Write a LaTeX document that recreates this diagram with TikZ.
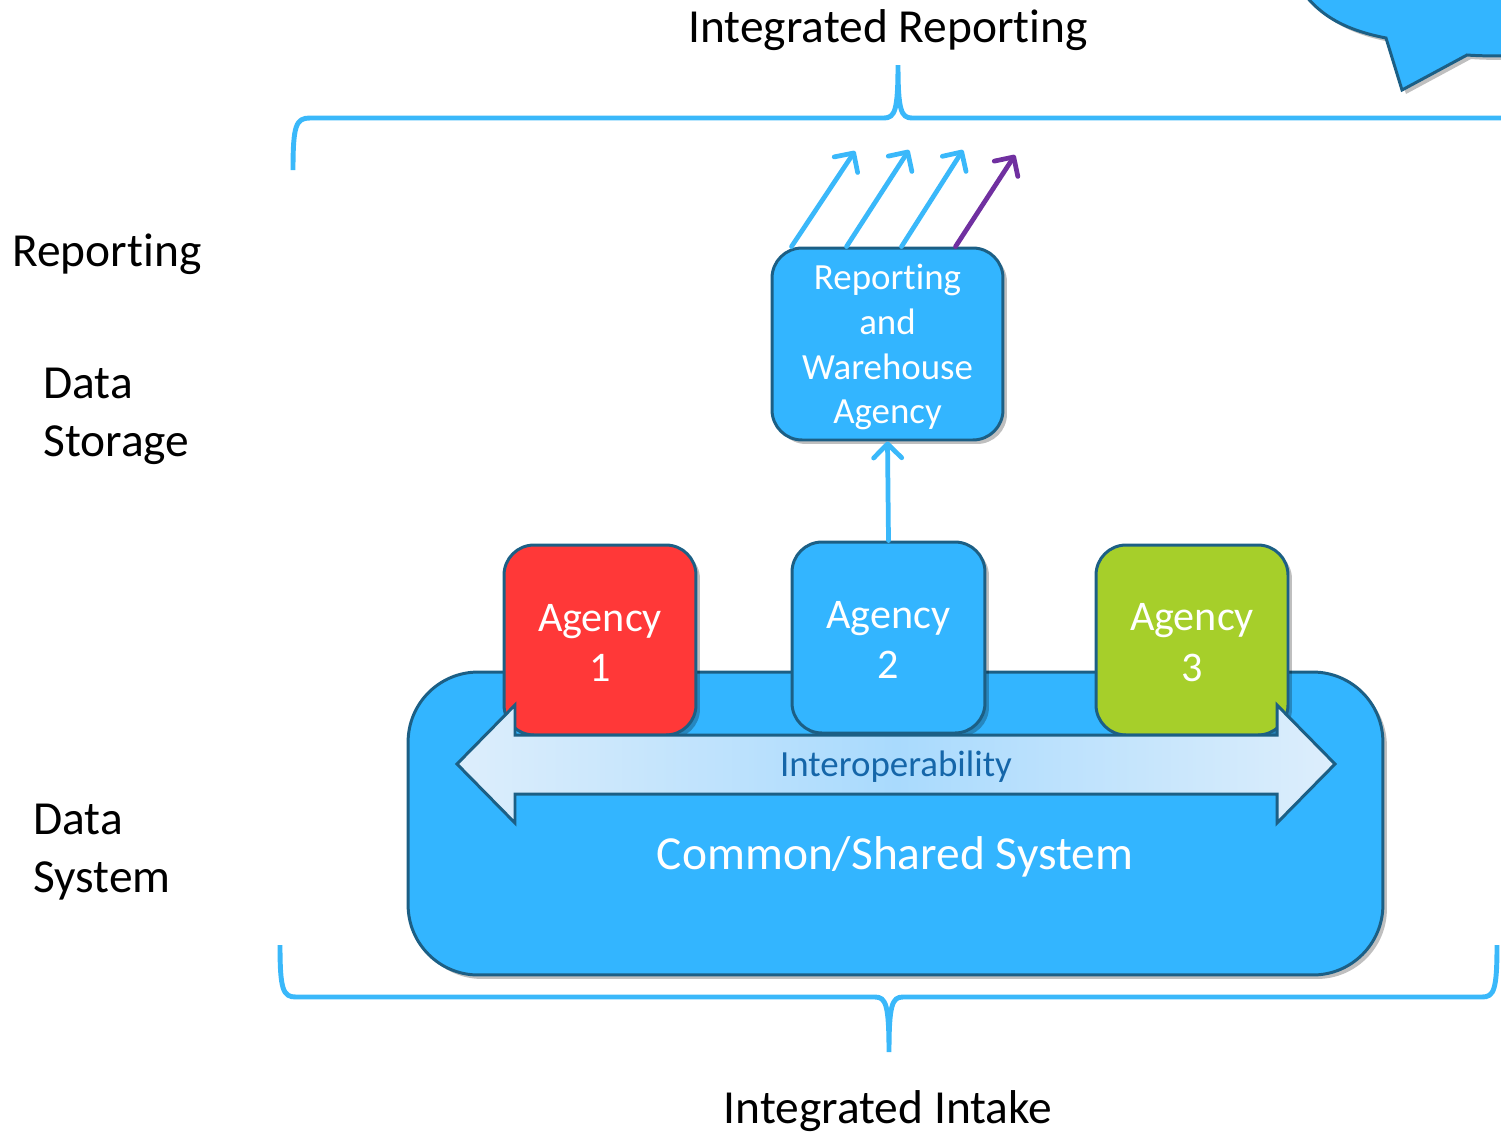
\documentclass[tikz,border=0pt]{standalone}
\usepackage{fontspec}
\setmainfont{Carlito}[Ligatures=NoCommon]
\usetikzlibrary{arrows.meta,shadows,calc}
\definecolor{cblue}{HTML}{33B5FF}
\definecolor{cedge}{HTML}{1C5F85}
\definecolor{cred}{HTML}{FF3838}
\definecolor{cgreen}{HTML}{A6CF2A}
\definecolor{cpurple}{HTML}{7030A0}
\definecolor{cbrace}{HTML}{3AB8FA}
\definecolor{cinter}{HTML}{1566A9}
\definecolor{cshaftL}{HTML}{DDEEFC}
\definecolor{cshaftM}{HTML}{A9DAFD}
\newcommand{\lowr}[2]{\raisebox{-#1}[\height][\depth]{#2}}
\begin{document}
\begin{tikzpicture}[x=0.02cm,y=-0.02cm,
  shd/.style={drop shadow={shadow xshift=0.08cm,shadow yshift=-0.08cm,opacity=0.25,fill=black}},
  box/.style={draw=cedge, line width=1.7pt, rounded corners=0.6cm, inner sep=0pt, align=center, text=white, font=\fontsize{24}{28.5}\selectfont, shd},
  brace/.style={draw=cbrace, line width=2.8pt},
  lbl/.style={font=\fontsize{27}{33}\selectfont, inner sep=0pt, align=left},
  uparrow/.style={line width=2.7pt, line cap=round, -{Straight Barb[length=8pt,width=16pt,round]}}
]
\useasboundingbox (0,0) rectangle (1501,1134);
\clip (0,0) rectangle (1501,1134);

% callout (top right)
\path[fill=cblue, draw=cedge, line width=1.7pt, shd]
  (1295,-20) .. controls (1315,15) and (1345,30) .. (1386,38) -- (1402,90) -- (1467,55)
  .. controls (1480,56) and (1495,56) .. (1520,56) -- (1520,-20) -- cycle;

% braces
\draw[brace] (293,170) .. controls (293,125) and (296,118) .. (310,118) -- (884,118)
  .. controls (895,118) and (898,110) .. (898,65)
  .. controls (898,110) and (901,118) .. (912,118) -- (1520,118);
\draw[brace] (280,945) .. controls (280,990) and (283,997) .. (296,997) -- (875,997)
  .. controls (886,997) and (889,1005) .. (889,1052)
  .. controls (889,1005) and (892,997) .. (903,997) -- (1482,997)
  .. controls (1494,997) and (1497,990) .. (1497,945);

% labels
\node[lbl] (ir) at (888,30) {Integrated Reporting};
\node[lbl] (ii) at (888,1111) {Integrated Intake};
\node[lbl, anchor=west] (rep) at (12,254) {Reporting};
\node[lbl, anchor=west] (ds) at (43,416) {Data\\Storage};
\node[lbl, anchor=west] (dsys) at (33,852) {Data\\System};

% common system
\node[box, rounded corners=1.4cm, fill=cblue, minimum width=19.5cm, minimum height=6.06cm] (sys) at (895.5,823.5) {};
\node[font=\fontsize{27}{33}\selectfont, text=white, inner sep=0pt] (systxt) at (895,857) {Common/Shared System};

% agencies
\node[box, fill=cred, minimum width=3.84cm, minimum height=3.8cm] (ag1) at (600,640) {\lowr{1.5pt}{\shortstack{Agency\\[6pt]1}}};
\node[box, fill=cblue, minimum width=3.86cm, minimum height=3.82cm] (ag2) at (888.5,637.5) {\lowr{1.5pt}{\shortstack{Agency\\[6pt]2}}};
\node[box, fill=cgreen, minimum width=3.84cm, minimum height=3.8cm] (ag3) at (1192,640) {\lowr{1.5pt}{\shortstack{Agency\\[6pt]3}}};

% interoperability arrow
\path[draw=cedge, line width=1.7pt, left color=cshaftL, right color=cshaftL, middle color=cshaftM]
  (457,764) -- (515,705) -- (515,735) -- (1277,735) -- (1277,705) -- (1335,764)
  -- (1277,823) -- (1277,794) -- (515,794) -- (515,823) -- cycle;
\node[font=\fontsize{21}{25}\selectfont, text=cinter, inner sep=0pt] (interop) at (896,767) {Interoperability};

% reporting and warehouse agency
\node[box, fill=cblue, minimum width=4.62cm, minimum height=3.84cm, font=\fontsize{21}{25.5}\selectfont] (rwa) at (887.5,344) {\lowr{1.8pt}{\parbox{4.4cm}{\centering Reporting\\and\\Warehouse\\Agency}}};

% arrows
\coordinate (t1) at (855,151);
\coordinate (t2) at (909,150);
\coordinate (t3) at (963,150);
\coordinate (t4) at (1015,155);
\draw[uparrow, draw=cbrace] ($(rwa.north west)+(21,0)$) -- (t1);
\draw[uparrow, draw=cbrace] ($(rwa.north west)+(76,0)$) -- (t2);
\draw[uparrow, draw=cbrace] ($(rwa.north west)+(131,0)$) -- (t3);
\draw[uparrow, draw=cpurple] ($(rwa.north west)+(185,0)$) -- (t4);
\draw[uparrow, draw=cbrace] (ag2.north) -- (rwa.south);
\end{tikzpicture}
\end{document}
